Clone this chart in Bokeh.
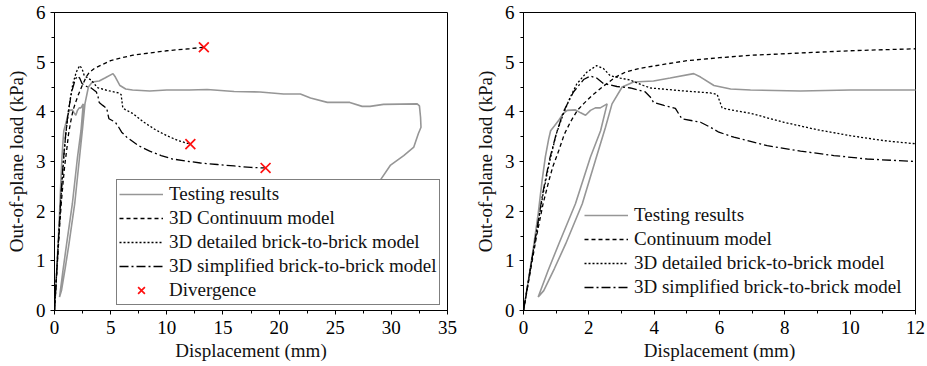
from bokeh.plotting import figure
from bokeh.models import Legend, LegendItem, SingleIntervalTicker, Range1d
from bokeh.layouts import row
from bokeh.embed import file_html
from bokeh.resources import INLINE

FONT = "Liberation Serif"

# ---------------- data (displacement mm, load kPa) ----------------
test_x = [0, 0.15, 0.3, 0.45, 0.57, 0.67, 0.77, 0.83, 0.95, 1.08, 1.22, 1.34, 1.59, 1.75, 1.9, 2.05, 2.2, 2.35, 2.56,
          2.36, 2.05, 1.59, 1.08, 0.75, 0.45,
          0.62, 0.95, 1.29, 1.8, 2.2, 2.51, 2.71, 3.02, 3.37, 3.98, 4.49, 5.21, 5.42, 5.83, 6.34, 6.95, 8.48, 10.0, 12.0,
          13.6, 16.0, 18.3, 20.4, 21.9, 22.8, 24.3, 26.3, 27.4, 28.1, 29.3, 32.3, 32.5, 32.6, 32.64, 32.4, 32.0, 31.1,
          29.9, 29.0, 28.5]
test_y = [0, 0.6, 1.25, 1.95, 2.62, 3.1, 3.45, 3.62, 3.72, 3.83, 3.97, 4.03, 4.04, 3.98, 3.93, 4.03, 4.08, 4.08, 4.16,
          3.62, 3.09, 2.15, 1.34, 0.8, 0.27,
          0.40, 0.85, 1.34, 2.15, 3.02, 3.69, 4.16, 4.5, 4.6, 4.62, 4.68, 4.77, 4.7, 4.53, 4.46, 4.44, 4.42, 4.44, 4.44,
          4.45, 4.41, 4.40, 4.36, 4.36, 4.28, 4.19, 4.19, 4.11, 4.11, 4.15, 4.16, 4.12, 3.89, 3.69, 3.56, 3.29, 3.12,
          2.92, 2.62, 2.45]

cont_x = [0, 0.2, 0.4, 0.6, 0.78, 0.9, 1.08, 1.25, 1.44, 1.65, 1.85, 2.1, 2.41, 2.82, 3.12, 3.6, 4.24, 5.0, 6.0,
          7.0, 8.0, 9.0, 10.0, 11.0, 12.0, 13.3]
cont_y = [0, 0.75, 1.5, 2.15, 2.62, 2.9, 3.22, 3.55, 3.8, 4.03, 4.17, 4.33, 4.5, 4.7, 4.8, 4.88, 4.95, 5.03, 5.09,
          5.14, 5.17, 5.2, 5.23, 5.25, 5.27, 5.3]

det_x = [0, 0.3, 0.6, 0.8, 1.0, 1.2, 1.4, 1.63, 1.94, 2.24, 2.45, 2.65, 2.96, 3.27, 3.67, 3.89, 4.91, 5.72, 5.93,
         6.08, 6.34, 6.95, 7.97, 8.99, 10.0, 11.03, 12.1]
det_y = [0, 1.2, 2.35, 3.0, 3.55, 3.92, 4.25, 4.56, 4.8, 4.93, 4.87, 4.73, 4.68, 4.64, 4.53, 4.48, 4.42, 4.38, 4.35,
         4.08, 4.04, 3.97, 3.79, 3.64, 3.52, 3.42, 3.35]

simp_x = [0, 0.3, 0.6, 0.8, 1.0, 1.22, 1.53, 1.84, 2.04, 2.24, 2.45, 2.86, 3.27, 3.73, 3.88, 3.98, 4.3, 4.65, 4.78,
          4.85, 5.42, 5.72, 5.98, 6.44, 7.46, 8.48, 9.5, 10.52, 12.0, 13.0, 14.5, 16.0, 17.5, 18.8]
simp_y = [0, 1.2, 2.4, 3.05, 3.55, 4.0, 4.4, 4.65, 4.72, 4.68, 4.57, 4.51, 4.48, 4.4, 4.3, 4.19, 4.13, 4.07, 3.93,
          3.86, 3.79, 3.69, 3.59, 3.49, 3.32, 3.21, 3.12, 3.05, 3.0, 2.97, 2.94, 2.91, 2.88, 2.87]

div_x = [13.3, 12.1, 18.8]
div_y = [5.3, 3.35, 2.87]

left_labels = ["Testing results", "3D Continuum model", "3D detailed brick-to-brick model",
               "3D simplified brick-to-brick model", "Divergence"]
right_labels = ["Testing results", "Continuum model", "3D detailed brick-to-brick model",
                "3D simplified brick-to-brick model"]

x_label = "Displacement (mm)"
y_label = "Out-of-plane load (kPa)"

GRAY = "#969696"


def make_fig(width, bl, br, xmax, xstep):
    p = figure(width=width, height=364, x_range=Range1d(0, xmax), y_range=Range1d(0, 6),
               output_backend="svg", toolbar_location=None,
               min_border_left=bl, min_border_right=br, min_border_top=12, min_border_bottom=54)
    p.grid.visible = False
    p.outline_line_color = "black"
    p.outline_line_width = 1
    p.background_fill_color = "white"
    p.border_fill_color = "white"
    p.xaxis.ticker = SingleIntervalTicker(interval=xstep, num_minor_ticks=2)
    p.yaxis.ticker = SingleIntervalTicker(interval=1, num_minor_ticks=2)
    for ax in (p.xaxis[0], p.yaxis[0]):
        ax.axis_line_color = "black"
        ax.axis_line_width = 1
        ax.major_tick_in = 0
        ax.major_tick_out = 4
        ax.minor_tick_in = 0
        ax.minor_tick_out = 3
        ax.major_tick_line_color = "black"
        ax.minor_tick_line_color = "black"
        ax.major_label_text_font = FONT
        ax.major_label_text_font_size = "19px"
        ax.major_label_text_color = "black"
        ax.axis_label_text_font = FONT
        ax.axis_label_text_font_size = "19px"
        ax.axis_label_text_font_style = "normal"
        ax.axis_label_text_color = "#111111"
    p.xaxis.axis_label = x_label
    p.yaxis.axis_label = y_label
    p.xaxis.major_label_standoff = 6
    p.xaxis.axis_label_standoff = 3
    p.yaxis.major_label_standoff = 5
    p.yaxis.axis_label_standoff = 6
    return p


def add_curves(p):
    r1 = p.line(test_x, test_y, line_color=GRAY, line_width=1.6)
    r2 = p.line(cont_x, cont_y, line_color="black", line_width=1.3, line_dash="4 3")
    r3 = p.line(det_x, det_y, line_color="black", line_width=1.3, line_dash="2 2")
    r4 = p.line(simp_x, simp_y, line_color="black", line_width=1.3, line_dash="9 3 2 3")
    return [r1, r2, r3, r4]


def style_legend(lg):
    lg.label_text_font = FONT
    lg.label_text_font_size = "19px"
    lg.label_text_color = "#111111"
    lg.glyph_width = 44
    lg.glyph_height = 24
    lg.label_height = 24
    lg.label_standoff = 6
    lg.spacing = 0
    lg.padding = 2
    lg.margin = 0


# left panel
p1 = make_fig(463, 54, 16, 35, 5)
rs = add_curves(p1)
rx = p1.scatter(div_x, div_y, marker="x", size=14, line_color="#ff1010", line_width=1.7)
leg1 = Legend(items=[LegendItem(label=l, renderers=[r]) for l, r in zip(left_labels, rs + [rx])],
              location=(62, 5))
style_legend(leg1)
leg1.border_line_color = "black"
leg1.border_line_width = 1
leg1.background_fill_color = "white"
leg1.background_fill_alpha = 1
p1.add_layout(leg1)

# right panel
p2 = make_fig(462, 60, 10, 12, 2)
rs2 = add_curves(p2)
leg2 = Legend(items=[LegendItem(label=l, renderers=[r]) for l, r in zip(right_labels, rs2)],
              location=(59, 9))
style_legend(leg2)
leg2.border_line_alpha = 0
leg2.background_fill_alpha = 0
p2.add_layout(leg2)

layout = row(p1, p2)
open("out.html", "w").write(file_html(layout, INLINE))
